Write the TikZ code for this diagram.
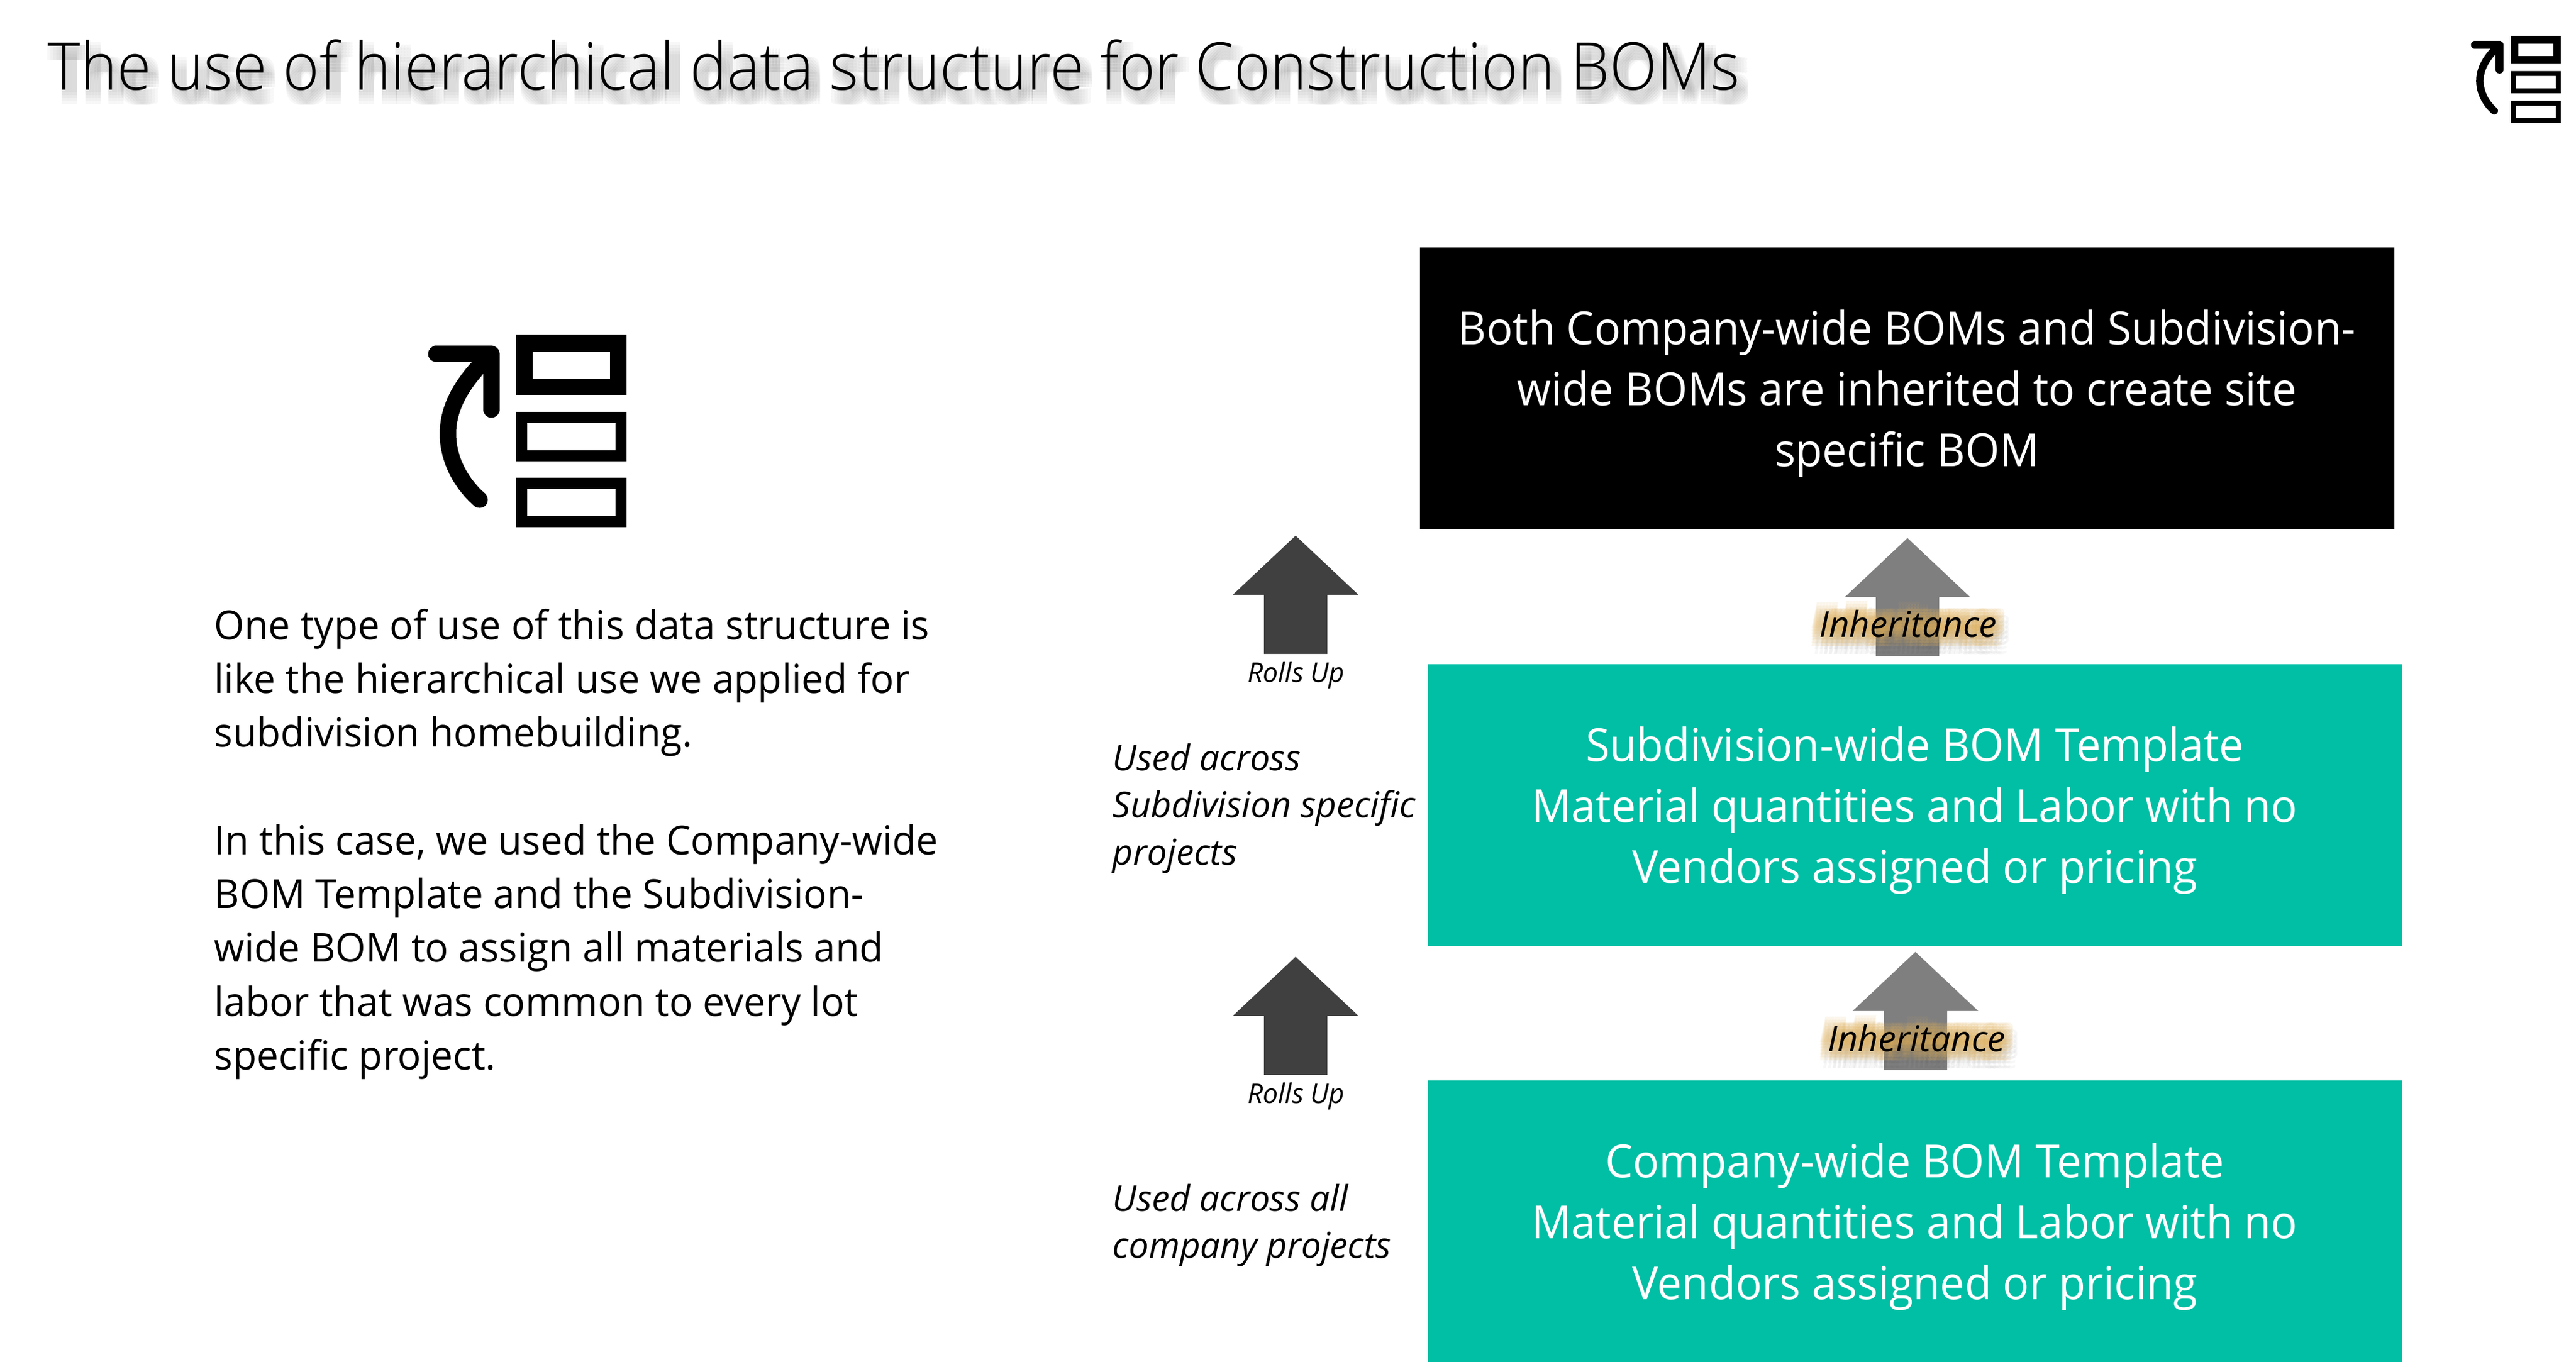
\documentclass[tikz,border=0pt]{standalone}
\usepackage{fontspec}
\usetikzlibrary{fadings}
\setmainfont{Open Sans}[FakeStretch=0.975]
\newfontfamily\boxf{Open Sans}[FakeStretch=0.958]
\newfontfamily\lightf{Open Sans Light}[FakeStretch=0.943]
\newfontfamily\italf{Open Sans}[FakeStretch=1.0]
\definecolor{teal}{HTML}{00BFA5}
\definecolor{darkarrow}{HTML}{404040}
\definecolor{grayarrow}{HTML}{7F7F7F}
\definecolor{glow}{HTML}{DFAE55}
\newcommand\titlestring{The use of hierarchical data structure for Construction BOMs}
\tikzset{
  px/.style={x=0.25pt,y=-0.25pt},
  boxtext/.style={text=white,inner sep=0pt,align=center,font=\boxf\fontsize{18.75}{25}\selectfont},
  bodytext/.style={anchor=north west,inner sep=0pt,align=left,font=\fontsize{16.4}{22.08}\selectfont},
  usedtext/.style={anchor=north west,inner sep=0pt,align=left,font=\italf\itshape\fontsize{14.6}{19.4}\selectfont},
  rollslabel/.style={anchor=base,inner sep=0pt,font=\italf\itshape\fontsize{11.1}{13}\selectfont},
  inhlabel/.style={anchor=base,inner sep=0pt,font=\italf\itshape\fontsize{14.6}{18}\selectfont},
  titletext/.style={anchor=base west,inner sep=0pt,font=\lightf\fontsize{27}{32}\selectfont},
}
\begin{tikzfadingfrompicture}[name=titleshadowfade,px]
  \path[use as bounding box] (-1500,-90) rectangle (1500,90);
  \foreach \dx in {-10,-5,0,5,10}{\foreach \dy in {-10,-5,0,5,10}{
    \node[titletext,text=white,text opacity=.05] at (-1422+\dx,48+\dy) {\titlestring};
  }}
\end{tikzfadingfrompicture}
\begin{tikzfadingfrompicture}[name=inhglowfade,px]
  \path[use as bounding box] (-200,-70) rectangle (200,70);
  \foreach \dx in {-15,-10,-5,0,5,10,15}{\foreach \dy in {-15,-10,-5,0,5,10,15}{
    \node[inhlabel,text=white,text opacity=.12] at (\dx,18+\dy) {Inheritance};
  }}
\end{tikzfadingfrompicture}
\begin{tikzfadingfrompicture}[name=inhshadefade,px]
  \path[use as bounding box] (-200,-70) rectangle (200,70);
  \foreach \dx in {-16,-8,0,8,16}{\foreach \dy in {-16,-8,0,8,16}{
    \node[inhlabel,text=white,text opacity=.12] at (6+\dx,30+\dy) {Inheritance};
  }}
\end{tikzfadingfrompicture}
% upward block arrow: tip x, tip y, base y, bottom y, colour
\newcommand\uparrowshape[5]{%
  \fill[#5] (#1,#2) -- (#1+103,#3) -- (#1+52,#3) -- (#1+52,#4) -- (#1-52,#4) -- (#1-52,#3) -- (#1-103,#3) -- cycle;}
% glow behind a label, centred at x, baseline y
\newcommand\glowat[2]{%
  \fill[black,opacity=.25,path fading=inhshadefade,fit fading=false,fading transform={shift={(#1,#2-18)}}] (#1-200,#2-18-70) rectangle (#1+200,#2-18+70);
  \fill[glow,opacity=.95,path fading=inhglowfade,fit fading=false,fading transform={shift={(#1,#2-18)}}] (#1-200,#2-18-70) rectangle (#1+200,#2-18+70);
}
\newcommand\bomicon[4]{%
  \begin{scope}[shift={(#1,#2)},x=#3*0.25pt,y=-#3*0.25pt]
    \fill[black,even odd rule] (0,0) rectangle (181,99) (27,28) rectangle (154,73);
    \fill[black,even odd rule] (0,127) rectangle (181,208) (18,145) rectangle (163,190);
    \fill[black,even odd rule] (0,235) rectangle (181,316) (18,253) rectangle (163,298);
    \draw[black,line width=#4,line cap=round,line join=round] (-131,32) -- (-41,32) -- (-41,123);
    \draw[black,line width=#4,line cap=round] (-60,271) .. controls (-95,240) and (-112,200) .. (-112,163) .. controls (-112,120) and (-90,78) .. (-41,32);
  \end{scope}}
\begin{document}
\begin{tikzpicture}[px]
\useasboundingbox (0,0) rectangle (4227,2235);
\fill[white] (0,0) rectangle (4227,2235);
% title shadow
\fill[black,opacity=.6,path fading=titleshadowfade,fit fading=false,fading transform={shift={(1509,114)}}] (9,24) rectangle (3009,204);
\node[titletext] (title) at (78,148) {\titlestring};
% icons
\bomicon{847}{549}{1}{6.75pt}
\bomicon{4120}{59}{0.453}{3.06pt}
% left text
\node[bodytext] (para) at (351,998) {One type of use of this data structure is\\like the hierarchical use we applied for\\subdivision homebuilding.\\[22.08pt]In this case, we used the Company-wide\\BOM Template and the Subdivision-\\wide BOM to assign all materials and\\labor that was common to every lot\\specific project.};
% boxes
\fill[black] (2330,406) rectangle (3929,868);
\fill[teal] (2343,1090) rectangle (3942,1552);
\fill[teal] (2343,1773) rectangle (3942,2240);
\node[boxtext] (site) at (3129,646) {Both Company-wide BOMs and Subdivision-\\wide BOMs are inherited to create site\\specific BOM};
\node[boxtext] (sub) at (3142,1330) {Subdivision-wide BOM Template\\Material quantities and Labor with no\\Vendors assigned or pricing};
\node[boxtext] (comp) at (3142,2013) {Company-wide BOM Template\\Material quantities and Labor with no\\Vendors assigned or pricing};
% arrows
\uparrowshape{2126}{879}{976}{1073}{darkarrow}
\uparrowshape{2126}{1570}{1667}{1764}{darkarrow}
\uparrowshape{3130}{883}{980}{1077}{grayarrow}
\uparrowshape{3143}{1562}{1659}{1756}{grayarrow}
% labels
\node[rollslabel] (ru1) at (2127,1119) {Rolls Up};
\node[rollslabel] (ru2) at (2127,1810) {Rolls Up};
\node[usedtext] (used1) at (1825,1219) {Used across\\Subdivision specific\\projects};
\node[usedtext] (used2) at (1825,1942) {Used across all\\company projects};
\glowat{3131}{1045}
\glowat{3145}{1725}
\node[inhlabel] (inh1) at (3131,1045) {Inheritance};
\node[inhlabel] (inh2) at (3145,1725) {Inheritance};
\end{tikzpicture}
\end{document}
